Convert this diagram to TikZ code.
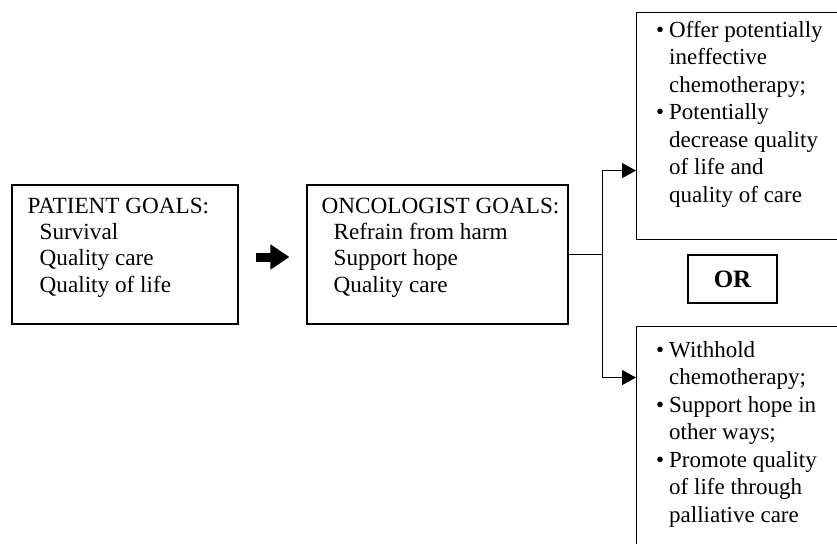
\documentclass[tikz,border=0pt]{standalone}
\usepackage{fontspec}
\setmainfont{Liberation Serif}
\usetikzlibrary{arrows.meta,positioning,calc}

\tikzset{
  goalbox/.style={draw, line width=1.1pt, inner sep=0pt},
  boxtext/.style={inner sep=0pt, align=left, font=\fontsize{23.2}{26.4}\selectfont},
  listtext/.style={inner sep=0pt, align=left, font=\fontsize{23}{27.5}\selectfont},
  link/.style={line width=1.1pt, -{Triangle[length=14pt,width=15pt]}},
}
\newcommand{\itm}{\llap{\textbullet\hspace{5pt}}}

\begin{document}
\begin{tikzpicture}[x=1pt,y=-1pt]
  \useasboundingbox (0,0) rectangle (837,543);
  \clip (0,0) rectangle (837,543);

  \node[goalbox, minimum width=226pt, minimum height=139pt] (patient) at (125,254.5) {};
  \node[goalbox, minimum width=261pt, minimum height=139pt] (oncologist) at (437.5,254.5) {};
  \node[goalbox, minimum width=230pt, minimum height=227pt, anchor=north west] (offer) at (636,12) {};
  \node[goalbox, minimum width=230pt, minimum height=240pt, anchor=north west] (withhold) at (636,326) {};
  \node[goalbox, minimum width=89pt, minimum height=48pt, font=\fontsize{25}{26}\selectfont\bfseries] (or) at (732.5,279) {OR};

  \node[boxtext, below right=13pt and 16pt of patient.north west] (patienttext)
    {PATIENT GOALS:\\\hspace*{12pt}Survival\\\hspace*{12pt}Quality care\\\hspace*{12pt}Quality of life};
  \node[boxtext, below right=13pt and 15pt of oncologist.north west] (oncologisttext)
    {ONCOLOGIST GOALS:\\\hspace*{12pt}Refrain from harm\\\hspace*{12pt}Support hope\\\hspace*{12pt}Quality care};
  \node[listtext, below right=9pt and 33pt of offer.north west] (offertext)
    {\itm Offer potentially\\ineffective\\chemotherapy;\\\itm Potentially\\decrease quality\\of life and\\quality of care};
  \node[listtext, below right=15pt and 33pt of withhold.north west] (withholdtext)
    {\itm Withhold\\chemotherapy;\\\itm Support hope in\\other ways;\\\itm Promote quality\\of life through\\palliative care};

  \draw[line width=9pt, -{Triangle[length=19pt,width=24pt]}]
    ([xshift=17pt,yshift=-2.5pt]patient.east) -- ([xshift=-17pt,yshift=-2.5pt]oncologist.west);

  \coordinate (split) at ($(oncologist.east)+(34,0)$);
  \draw[line width=1.1pt] (oncologist.east) -- (split);
  \draw[link] (split) |- ([yshift=-44.5pt]offer.west);
  \draw[link] (split) |- ([yshift=69pt]withhold.west);
\end{tikzpicture}
\end{document}
